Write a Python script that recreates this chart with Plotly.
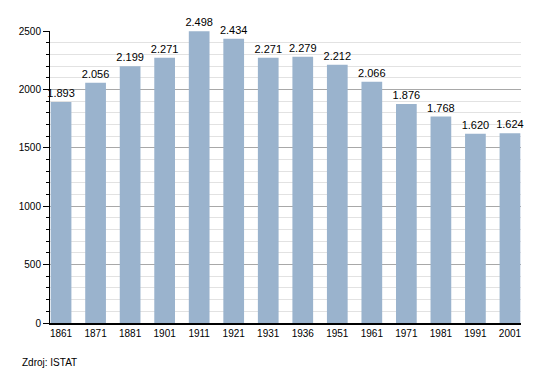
import plotly.graph_objects as go

years = ["1861", "1871", "1881", "1901", "1911", "1921", "1931", "1936", "1951", "1961", "1971", "1981", "1991", "2001"]
population = [1893, 2056, 2199, 2271, 2498, 2434, 2271, 2279, 2212, 2066, 1876, 1768, 1620, 1624]

FONT = "Liberation Sans, Arial, sans-serif"

fig = go.Figure()
fig.add_trace(go.Bar(
    x=years, y=population,
    marker=dict(color="#9ab3cd", line=dict(width=0)),
    width=0.6,
    texttemplate="%{y:,}", textposition="outside",
    textfont=dict(family=FONT, size=11, color="#000"),
    constraintext="none",
    cliponaxis=False,
))

fig.update_layout(
    width=542, height=365,
    margin=dict(l=42, r=29, t=23, b=50),
    paper_bgcolor="white", plot_bgcolor="white",
    separators=",.",
    showlegend=False,
    font=dict(family=FONT, size=10, color="#000"),
    xaxis=dict(
        type="category", range=[-0.32, 13.32],
        showline=True, linecolor="#000", linewidth=1.5,
        ticks="", showgrid=False, tickfont=dict(size=10),
    ),
    yaxis=dict(
        range=[0, 2500], dtick=500, tickformat="d",
        showline=True, linecolor="#000", linewidth=1,
        ticks="outside", ticklen=6, tickcolor="#000",
        showgrid=True, gridcolor="#a8a8a8", gridwidth=1,
        zeroline=False,
        minor=dict(dtick=100, showgrid=True, gridcolor="#e2e2e2", ticks="outside", ticklen=3, tickcolor="#000"),
        tickfont=dict(size=10),
    ),
)
fig.add_annotation(text="Zdroj: ISTAT", xref="paper", yref="paper", x=-0.064, y=-0.134,
                   xanchor="left", yanchor="middle", showarrow=False,
                   font=dict(family=FONT, size=10))

fig.write_html("out.html")
